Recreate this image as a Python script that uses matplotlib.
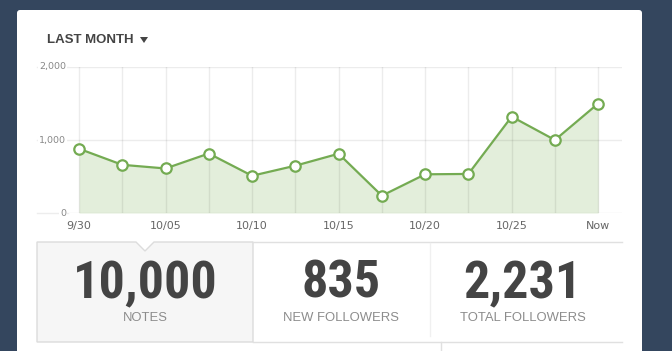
import numpy as np
import matplotlib
matplotlib.use('Agg')
import matplotlib.pyplot as plt
from matplotlib.patches import FancyBboxPatch, Polygon
from matplotlib.lines import Line2D

# data
tick_labels = ['9/30', '10/05', '10/10', '10/15', '10/20', '10/25', 'Now']
values = [880, 660, 610, 815, 510, 648, 812, 237, 530, 535, 1320, 1000, 1500]
y_ticks = [0, 1000, 2000]
y_tick_labels = ['0', '1,000', '2,000']
stat_numbers = ['10,000', '835', '2,231']
stat_names = ['NOTES', 'NEW FOLLOWERS', 'TOTAL FOLLOWERS']

W, H = 672, 351
green = '#74ab52'
fill_green = '#e3eedb'

fig = plt.figure(figsize=(W / 100, H / 100), dpi=100)
fig.patch.set_facecolor('#34465e')

# background layer in pixel coords (top-left origin)
bg = fig.add_axes([0, 0, 1, 1])
bg.set_xlim(0, W)
bg.set_ylim(H, 0)
bg.axis('off')
bg.add_patch(FancyBboxPatch((17, 10), 625, 360, boxstyle='round,pad=0,rounding_size=3',
                            facecolor='white', edgecolor='none'))

# header
bg.text(47, 40, 'LAST MONTH', fontsize=9.5, fontweight='bold', color='#444444',
        va='center', ha='left', family='Liberation Sans')
bg.add_patch(Polygon([(140, 37), (148, 37), (144, 43)], closed=True,
                     facecolor='#444444', edgecolor='none'))

# stats row
box = Polygon([(37, 242), (136, 242), (145, 251), (154, 242), (253, 242),
               (253, 342), (37, 342)], closed=True, facecolor='#f6f6f6',
              edgecolor='#dcdcdc', linewidth=1)
bg.add_patch(box)
bg.add_line(Line2D([253, 622], [242, 242], color='#e0e0e0', lw=1))
bg.add_line(Line2D([430, 430], [243, 336], color='#f0f0f0', lw=1))
bg.add_line(Line2D([253, 622], [342, 342], color='#e0e0e0', lw=1))
bg.add_line(Line2D([441, 441], [342, 351], color='#e0e0e0', lw=1))

centers = [145.5, 341, 522.5]
for cx, num, name in zip(centers, stat_numbers, stat_names):
    bg.text(cx, 298, num, fontsize=37.5, fontweight='bold', color='#444444',
            ha='center', va='baseline', family='Roboto Condensed')
    bg.text(cx, 321, name, fontsize=9.4, color='#8c8c8c', ha='center',
            va='baseline', family='Liberation Sans')

# chart area: x 68..622 px, y 67..213 px
ax = fig.add_axes([68 / W, 1 - 213 / H, (622 - 68) / W, (213 - 67) / H])
idx = np.arange(len(values))
ax.set_xlim(-0.254, 12.55)
ax.set_ylim(0, 2000)
ax.fill_between(idx, values, color=fill_green, zorder=1, lw=0)
for i in idx:
    ax.axvline(i, color='black', alpha=0.075, lw=1, zorder=1.5)
for v in y_ticks:
    ax.axhline(v, color='black', alpha=0.075, lw=1, zorder=1.5)
ax.plot(idx, values, color=green, lw=1.6, marker='o', markersize=7.5,
        markerfacecolor='white', markeredgecolor=green, markeredgewidth=1.6,
        zorder=3, clip_on=False)
for s in ax.spines.values():
    s.set_visible(False)
ax.set_xticks(idx[::2])
ax.set_xticklabels(tick_labels, fontsize=8, color='#666666')
ax.tick_params(axis='x', length=0, pad=6)
ax.set_yticks([])

# gridlines run on to the left under the y labels
for v, lab in zip(y_ticks, y_tick_labels):
    yp = 213 - v / 2000 * 146
    bg.add_line(Line2D([37, 68], [yp, yp], color='#ededed', lw=1))
    bg.text(66, yp, lab, fontsize=6.8, color='#888888', ha='right', va='center',
            bbox=dict(facecolor='white', edgecolor='none', pad=0.6))

fig.savefig('out.png', dpi=100, facecolor=fig.get_facecolor())
